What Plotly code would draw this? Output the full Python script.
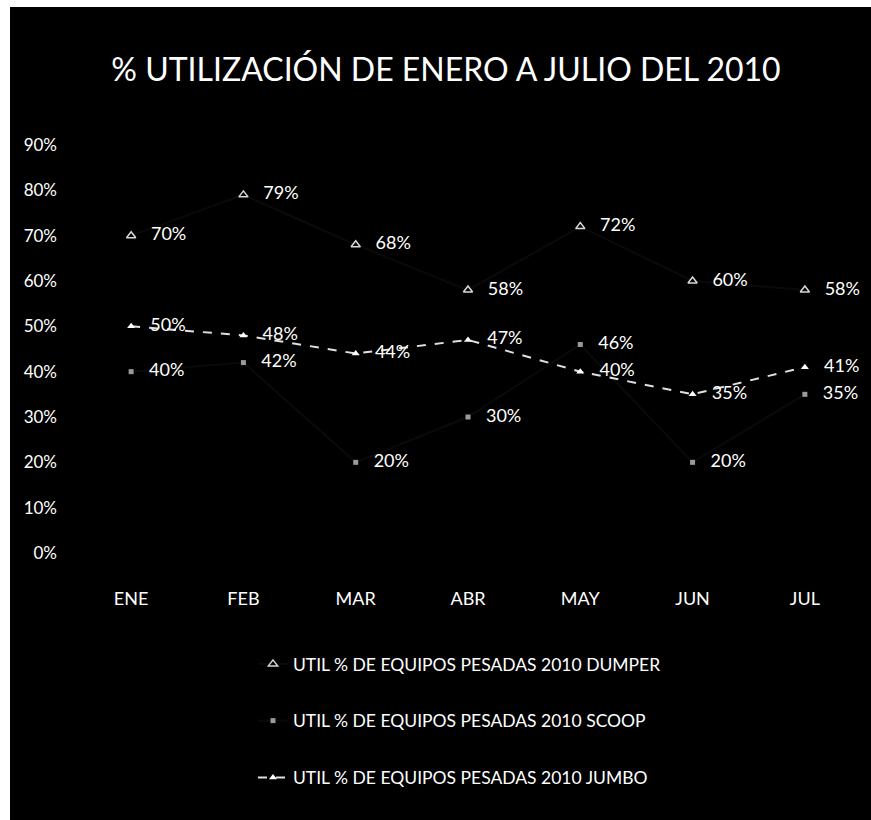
import plotly.graph_objects as go

# Monthly utilisation of heavy equipment, January to July 2010
months = ["ENE", "FEB", "MAR", "ABR", "MAY", "JUN", "JUL"]
dumper = [0.70, 0.79, 0.68, 0.58, 0.72, 0.60, 0.58]
scoop = [0.40, 0.42, 0.20, 0.30, 0.46, 0.20, 0.35]
jumbo = [0.50, 0.48, 0.44, 0.47, 0.40, 0.35, 0.41]

series_names = [
    "UTIL % DE EQUIPOS PESADAS 2010 DUMPER",
    "UTIL % DE EQUIPOS PESADAS 2010 SCOOP",
    "UTIL % DE EQUIPOS PESADAS 2010 JUMBO",
]
y_ticks = [0.0, 0.1, 0.2, 0.3, 0.4, 0.5, 0.6, 0.7, 0.8, 0.9]

FONT = "Lato, Liberation Sans Narrow, sans-serif"
W, H = 871, 820
ML, MR, MT, MB = 75, 10, 145, 267
PW, PH = W - ML - MR, H - MT - MB


def px_x(p):
    return (p - ML) / PW


def px_y(p):
    return (H - MB - p) / PH


label_tpl = "\u00a0\u00a0\u00a0%{y:.0%}"
label_font = dict(family=FONT, size=18, color="white")

fig = go.Figure()
fig.add_trace(go.Scatter(
    x=months, y=dumper, name=series_names[0], legendgroup="d",
    mode="lines+markers+text", texttemplate=label_tpl,
    textposition="middle right", textfont=label_font,
    line=dict(color="#0a0a0a", width=2),
    marker=dict(symbol="triangle-up-open", size=8, color="#d8d8d8",
                line=dict(width=1.5)),
    cliponaxis=False,
))
fig.add_trace(go.Scatter(
    x=months, y=scoop, name=series_names[1], legendgroup="s",
    mode="lines+markers+text", texttemplate=label_tpl,
    textposition="middle right", textfont=label_font,
    line=dict(color="#0a0a0a", width=2),
    marker=dict(symbol="square", size=5, color="#9a9a9a"),
    cliponaxis=False,
))
fig.add_trace(go.Scatter(
    x=months, y=jumbo, name=series_names[2], legendgroup="j",
    mode="lines+markers+text", texttemplate=label_tpl,
    textposition="middle right", textfont=label_font,
    line=dict(color="#e0e0e0", width=2, dash="dash"),
    marker=dict(symbol="triangle-up", size=7, color="white"),
    cliponaxis=False,
))

# dark card over a white page edge on the left and top
fig.add_shape(type="rect", xref="paper", yref="paper", layer="below",
              x0=px_x(10), x1=px_x(W + 5), y0=px_y(7), y1=px_y(H + 5),
              fillcolor="black", line=dict(width=0))

fig.update_layout(
    width=W, height=H,
    margin=dict(l=ML, r=MR, t=MT, b=MB),
    paper_bgcolor="white", plot_bgcolor="black",
    font=dict(family=FONT, color="white"),
    title=dict(text="% UTILIZACIÓN DE ENERO A JULIO DEL 2010",
               font=dict(family=FONT, size=32, color="white"),
               x=446 / W, xanchor="center", y=1 - 70 / H, yanchor="middle",
               yref="container"),
    showlegend=True,
    legend=dict(orientation="v", x=px_x(253), xanchor="left",
                y=px_y(646), yanchor="top", bgcolor="rgba(0,0,0,0)",
                font=dict(family=FONT, size=17.5, color="white"),
                tracegroupgap=31, itemwidth=30),
    xaxis=dict(range=[-0.5, 6.5], showgrid=False, zeroline=False,
               showline=False,
               tickfont=dict(family=FONT, size=18, color="white"),
               ticks="", ticklabelstandoff=33),
    yaxis=dict(range=[0, 0.9], tickvals=y_ticks, tickformat=".0%",
               showgrid=False, zeroline=False, showline=False,
               tickfont=dict(family=FONT, size=17, color="white"),
               ticks="", ticklabelstandoff=17),
)

fig.write_html("out.html")
